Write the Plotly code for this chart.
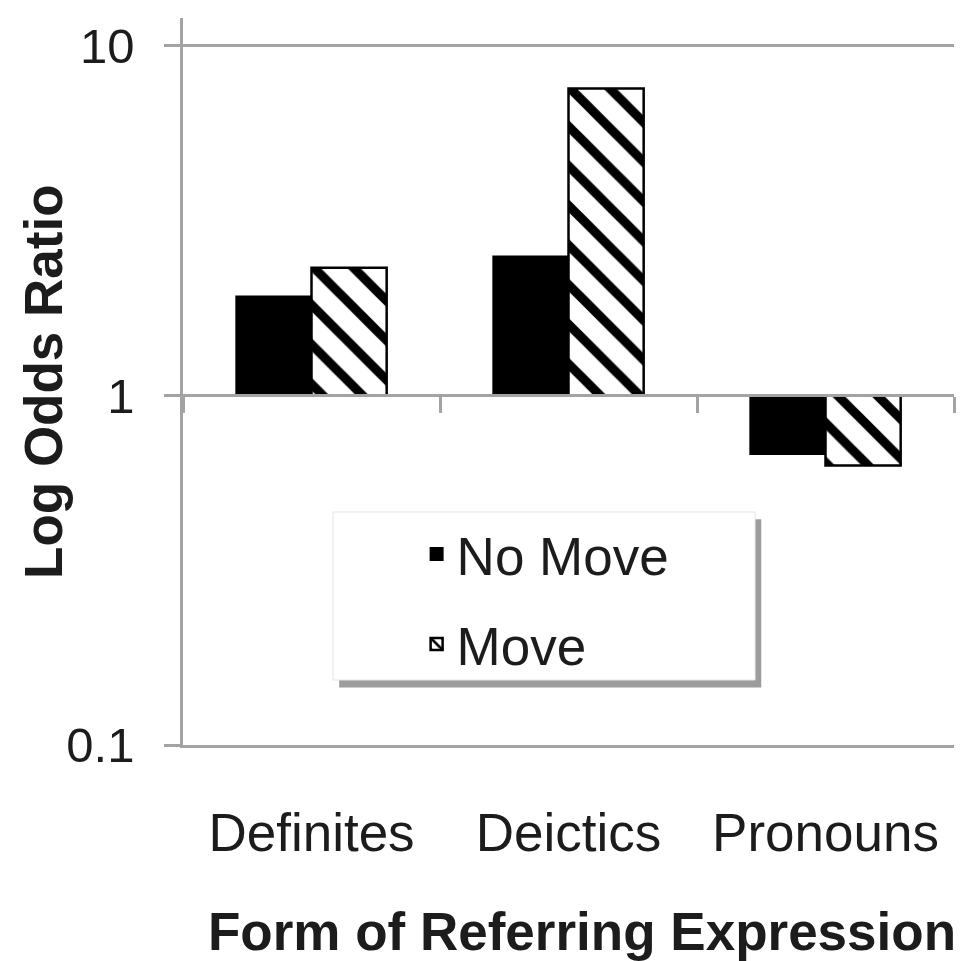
import plotly.graph_objects as go

categories = ["Definites", "Deictics", "Pronouns"]
no_move = [1.92, 2.50, 0.68]
move = [2.32, 7.55, 0.63]
series_names = ["No Move", "Move"]
y_tick_values = [0.1, 1, 10]
y_tick_labels = ["0.1", "1", "10"]
x_title = "Form of Referring Expression"
y_title = "Log Odds Ratio"

BASE = 1.0
FONT = "Liberation Sans, Arial, sans-serif"
GRID = "#a3a3a3"
TXT = "#1c1c1c"

fig = go.Figure()
fig.add_trace(go.Bar(
    x=categories, y=[v - BASE for v in no_move], base=BASE,
    name=series_names[0], legendgroup="a",
    marker=dict(color="black", line=dict(color="black", width=2)),
))
fig.add_trace(go.Bar(
    x=categories, y=[v - BASE for v in move], base=BASE,
    name=series_names[1], legendgroup="b",
    marker=dict(color="white", line=dict(color="black", width=2.5),
                pattern=dict(shape="\\", fgcolor="black", bgcolor="white",
                             fgopacity=1, size=28, solidity=0.33)),
))
# invisible carrier so the category axis drawn through y = 1 exists
fig.add_trace(go.Scatter(
    x=categories, y=no_move, xaxis="x2", yaxis="y", mode="none",
    showlegend=False, hoverinfo="skip",
))

# legend box with shadow
fig.add_shape(type="rect", xref="paper", yref="paper",
              x0=0.2026, x1=0.7500, y0=0.0790, y1=0.3105,
              fillcolor="#9c9c9c", line=dict(width=0), layer="above")
fig.add_shape(type="rect", xref="paper", yref="paper",
              x0=0.1946, x1=0.7420, y0=0.0894, y1=0.3205,
              fillcolor="white", line=dict(color="#e4e4e4", width=1), layer="above")

fig.add_annotation(text="<b>" + y_title + "</b>", xref="paper", yref="paper",
                   x=-0.181, y=0.5, xanchor="center", yanchor="middle",
                   textangle=-90, showarrow=False,
                   font=dict(size=53, family=FONT, color=TXT))
fig.add_annotation(text="<b>" + x_title + "</b>", xref="paper", yref="paper",
                   x=0.517, y=-0.257, xanchor="center", yanchor="middle",
                   showarrow=False,
                   font=dict(size=53, family=FONT, color=TXT))

fig.update_layout(
    width=964, height=953,
    margin=dict(l=175, r=18, t=10, b=216),
    paper_bgcolor="white", plot_bgcolor="white",
    barmode="group", bargap=0.415, bargroupgap=0,
    font=dict(family=FONT, color=TXT, size=53),
    showlegend=True,
    legend=dict(x=0.303, y=0.319, xanchor="left", yanchor="top",
                bgcolor="rgba(0,0,0,0)", borderwidth=0,
                font=dict(size=53, family=FONT, color=TXT),
                tracegroupgap=18, traceorder="grouped"),
    xaxis=dict(type="category", range=[-0.5, 2.5],
               showline=True, linecolor=GRID, linewidth=2.5,
               showgrid=False, ticks="", ticklabelstandoff=40,
               tickfont=dict(size=53, family=FONT, color=TXT),
               automargin=False),
    xaxis2=dict(overlaying="x", anchor="free", position=1 / 2.08,
                type="category", range=[-0.5, 2.5],
                tickson="boundaries",
                showticklabels=False, ticks="outside", ticklen=16,
                tickcolor=GRID, tickwidth=2.5,
                showline=True, linecolor=GRID, linewidth=2.5,
                showgrid=False, zeroline=False, side="bottom"),
    yaxis=dict(type="log", range=[-1, 1.08],
               tickvals=y_tick_values, ticktext=y_tick_labels,
               ticks="outside", ticklen=16, tickcolor=GRID, tickwidth=2.5,
               showline=True, linecolor=GRID, linewidth=2.5,
               showgrid=True, gridcolor=GRID, gridwidth=2.5,
               zeroline=False, ticklabelstandoff=20,
               tickfont=dict(size=49, family=FONT, color=TXT),
               automargin=False),
)

fig.write_html("out.html")
